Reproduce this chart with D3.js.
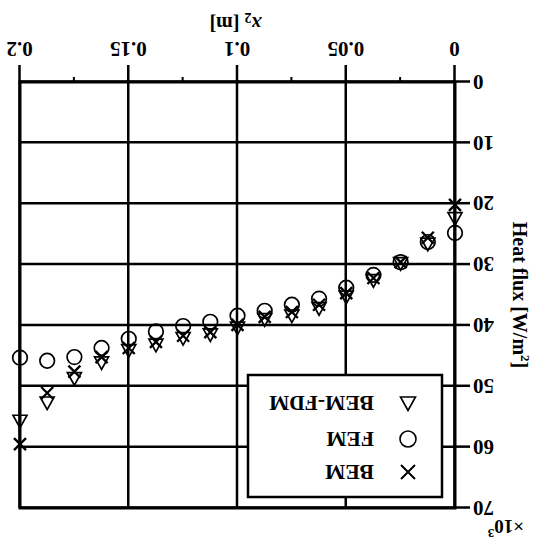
<!DOCTYPE html>
<html>
<head>
<meta charset="utf-8">
<script src="https://cdn.jsdelivr.net/npm/d3@7"></script>
<style>
  body { margin: 0; background: #fff; }
  svg text { font-family: "Liberation Serif", "DejaVu Serif", serif; font-weight: bold; fill: #000; }
</style>
</head>
<body>
<script>
// x positions [m]
const xPos = [0, 0.0125, 0.025, 0.0375, 0.05, 0.0625, 0.075, 0.0875, 0.1,
              0.1125, 0.125, 0.1375, 0.15, 0.1625, 0.175, 0.1875, 0.2];
// heat flux, x10^3 W/m^2
const bem    = [20.2, 25.6, 29.6, 32.2, 34.7, 36.6, 37.8, 38.6, 39.9,
                41.1, 41.7, 42.7, 43.7, 45.2, 47.6, 51.1, 59.5];
const fem    = [24.8, 26.3, 29.6, 31.7, 33.8, 35.6, 36.6, 37.6, 38.4,
                39.4, 40.1, 41.0, 42.2, 43.7, 45.2, 45.8, 45.3];
const bemFdm = [22.3, 26.5, 29.7, 32.5, 35.2, 37.1, 38.3, 38.9, 40.3,
                41.4, 42.0, 43.1, 44.0, 46.0, 48.6, 52.6, 55.6];

const xTicks = [0, 0.05, 0.1, 0.15, 0.2];
const xMinor = [0.025, 0.075, 0.125, 0.175];
const xTickLabels = ["0", "0.05", "0.1", "0.15", "0.2"];
const yTicks = [0, 10, 20, 30, 40, 50, 60, 70];
const legendNames = ["BEM", "FEM", "BEM-FDM"];

const w = 534, h = 541;
const pLeft = 79, pRight = 514, pTop = 33, pBottom = 459;

const xScale = d3.scaleLinear().domain([0, 0.2]).range([pLeft, pRight]);
const yScale = d3.scaleLinear().domain([0, 70]).range([pBottom, pTop]);

const svg = d3.select("body").append("svg")
  .attr("width", w)
  .attr("height", h);

// the whole figure is printed upside down
const g = svg.append("g")
  .attr("transform", "rotate(180," + (w / 2) + "," + (h / 2) + ")");

// grid
g.append("g")
  .attr("transform", "translate(0," + pBottom + ")")
  .call(d3.axisBottom(xScale).tickValues(xTicks).tickSize(-(pBottom - pTop)).tickFormat(""))
  .call(a => a.select(".domain").remove())
  .call(a => a.selectAll("line").attr("stroke-width", 2.5));

g.append("g")
  .attr("transform", "translate(" + pLeft + ",0)")
  .call(d3.axisLeft(yScale).tickValues(yTicks).tickSize(-(pRight - pLeft)).tickFormat(""))
  .call(a => a.select(".domain").remove())
  .call(a => a.selectAll("line").attr("stroke-width", 2.5));

// outer ticks and labels
const xAxis = d3.axisBottom(xScale)
  .tickValues(xTicks)
  .tickSize(17)
  .tickPadding(8)
  .tickFormat((d, i) => xTickLabels[i]);

g.append("g")
  .attr("transform", "translate(0," + pBottom + ")")
  .call(xAxis)
  .call(a => a.select(".domain").remove())
  .call(a => a.selectAll("line").attr("stroke-width", 2.5))
  .call(a => a.selectAll("text").attr("font-size", 21).attr("font-family", null));

g.append("g")
  .attr("transform", "translate(0," + pBottom + ")")
  .call(d3.axisBottom(xScale).tickValues(xMinor).tickSize(5).tickFormat(""))
  .call(a => a.select(".domain").remove())
  .call(a => a.selectAll("line").attr("stroke-width", 2));

const yAxis = d3.axisLeft(yScale)
  .tickValues(yTicks)
  .tickSize(15)
  .tickPadding(3);

g.append("g")
  .attr("transform", "translate(" + pLeft + ",0)")
  .call(yAxis)
  .call(a => a.select(".domain").remove())
  .call(a => a.selectAll("line").attr("stroke-width", 2.5))
  .call(a => a.selectAll("text").attr("font-size", 21).attr("font-family", null));

// frame
g.append("rect")
  .attr("x", pLeft).attr("y", pTop)
  .attr("width", pRight - pLeft).attr("height", pBottom - pTop)
  .attr("fill", "none").attr("stroke", "#000").attr("stroke-width", 3);

// markers
function cross(s) { return "M" + -s + "," + -s + "L" + s + "," + s + "M" + -s + "," + s + "L" + s + "," + -s; }
function tri(s) { return "M0," + (-s) + "L" + s + "," + (s * 0.8) + "L" + (-s) + "," + (s * 0.8) + "Z"; }

const pts = g.append("g").attr("fill", "none").attr("stroke", "#000");

pts.selectAll(".tri").data(bemFdm).enter().append("path")
  .attr("class", "tri")
  .attr("d", tri(7))
  .attr("stroke-width", 1.7)
  .attr("transform", (d, i) => "translate(" + xScale(xPos[i]) + "," + (yScale(d) - 0.5) + ")");

pts.selectAll(".circ").data(fem).enter().append("circle")
  .attr("class", "circ")
  .attr("cx", (d, i) => xScale(xPos[i]))
  .attr("cy", d => yScale(d))
  .attr("r", 7.3)
  .attr("stroke-width", 1.7);

pts.selectAll(".cross").data(bem).enter().append("path")
  .attr("class", "cross")
  .attr("d", cross(6))
  .attr("stroke-width", 2.3)
  .attr("transform", (d, i) => "translate(" + xScale(xPos[i]) + "," + yScale(d) + ")");

// legend
const lg = g.append("g");
lg.append("rect")
  .attr("x", 92).attr("y", 44).attr("width", 194).attr("height", 122)
  .attr("fill", "#fff").attr("stroke", "#000").attr("stroke-width", 2.5);

const rowY = [69, 102, 138];
lg.append("path").attr("d", cross(7)).attr("transform", "translate(126," + rowY[0] + ")")
  .attr("fill", "none").attr("stroke", "#000").attr("stroke-width", 2);
lg.append("circle").attr("cx", 126).attr("cy", rowY[1]).attr("r", 8)
  .attr("fill", "none").attr("stroke", "#000").attr("stroke-width", 1.6);
lg.append("path").attr("d", tri(7.5)).attr("transform", "translate(126," + rowY[2] + ")")
  .attr("fill", "none").attr("stroke", "#000").attr("stroke-width", 1.6);

lg.selectAll("text").data(legendNames).enter().append("text")
  .attr("x", 160)
  .attr("y", (d, i) => rowY[i] + 7)
  .attr("font-size", 21.5)
  .text(d => d);

// axis titles
const xt = g.append("text")
  .attr("x", (pLeft + pRight) / 2 + 2)
  .attr("y", 524)
  .attr("text-anchor", "middle")
  .attr("font-size", 20);
xt.append("tspan").attr("font-style", "italic").text("x");
xt.append("tspan").attr("font-size", 14).attr("dy", 4).text("2");
xt.append("tspan").attr("dy", -4).text(" [m]");

const yt = g.append("text")
  .attr("transform", "translate(21," + ((pTop + pBottom) / 2) + ") rotate(-90)")
  .attr("text-anchor", "middle")
  .attr("font-size", 20);
yt.append("tspan").text("Heat flux [W/m");
yt.append("tspan").attr("font-size", 13).attr("dy", -8).text("2");
yt.append("tspan").attr("dy", 8).text("]");

const mult = g.append("text")
  .attr("x", 10).attr("y", 21)
  .attr("font-size", 19);
mult.append("tspan").text("×10");
mult.append("tspan").attr("font-size", 13).attr("dy", -9).text("3");
</script>
</body>
</html>
